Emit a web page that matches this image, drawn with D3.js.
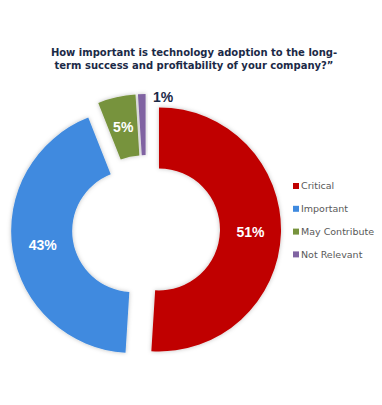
<!DOCTYPE html>
<html><head><meta charset="utf-8">
<script src="https://cdn.jsdelivr.net/npm/d3@7"></script>
<style>body{margin:0;background:#fff}svg{display:block}</style>
</head><body>
<svg id="c" width="382" height="405"></svg>
<script>
const categories = ["Critical", "Important", "May Contribute", "Not Relevant"];
const values = [51, 43, 5, 1];
const labels = ["51%", "43%", "5%", "1%"];
const colors = ["#C00000", "#3F8ADF", "#77933C", "#8064A2"];
const titleLines = ["How important is technology adoption to the long-", "term success and profitability of your company?\u201D"];

const svg = d3.select("#c");
const defs = svg.append("defs");
const f = defs.append("filter").attr("id","sh").attr("x","-20%").attr("y","-20%").attr("width","140%").attr("height","140%");
f.append("feDropShadow").attr("dx",0).attr("dy",0).attr("stdDeviation",2).attr("flood-color","#000").attr("flood-opacity",0.25);

svg.append("g").selectAll("text").data(titleLines).join("text")
  .attr("x", 194).attr("y", (d,i)=>56 + i*12.5)
  .attr("text-anchor","middle")
  .attr("font-family","Verdana, 'DejaVu Sans', sans-serif")
  .attr("font-weight","bold").attr("font-size","10px")
  .attr("fill","#1B2A47").text(d=>d);

const cx = 146, cy = 229, rOuter = 122, rInner = 61, explode = 13;
const pie = d3.pie().sort(null).value(d=>d).startAngle(0).endAngle(2*Math.PI);
const arcs = pie(values);
const arc = d3.arc().innerRadius(rInner).outerRadius(rOuter);
const g = svg.append("g").attr("transform",`translate(${cx},${cy})`);
const off = d => { const m=(d.startAngle+d.endAngle)/2; return [Math.sin(m)*explode, -Math.cos(m)*explode]; };

g.selectAll("path").data(arcs).join("path")
  .attr("d", arc)
  .attr("transform", d=>`translate(${off(d)})`)
  .attr("fill", (d,i)=>colors[i])
  .attr("filter","url(#sh)");

const labelPos = [[104, 5], [-104, 17], [-19, -102], [17, -132]];
g.selectAll("text.lab").data(arcs).join("text").attr("class","lab")
  .attr("transform",(d,i)=>{
     if (i===3) { return `translate(${labelPos[i]})`; }
     const c = arc.centroid(d); const o = off(d);
     return `translate(${c[0]+o[0]},${c[1]+o[1]})`;
  })
  .attr("text-anchor","middle").attr("dy","0.35em")
  .attr("font-family","Arial, 'Liberation Sans', sans-serif").attr("font-weight","bold").attr("font-size","14px")
  .attr("fill",(d,i)=> i===3 ? "#1B2A47" : "#fff")
  .text((d,i)=>labels[i]);

const leg = svg.append("g").attr("transform","translate(293,186)");
const item = leg.selectAll("g").data(categories).join("g").attr("transform",(d,i)=>`translate(0,${i*22.8})`);
item.append("rect").attr("x",0).attr("y",-3).attr("width",6).attr("height",6).attr("fill",(d,i)=>colors[i]);
item.append("text").attr("x",8).attr("dy","0.35em")
  .attr("font-family","Verdana, 'DejaVu Sans', sans-serif").attr("font-size","9.5px").attr("fill","#595959").text(d=>d);
</script>
</body></html>
